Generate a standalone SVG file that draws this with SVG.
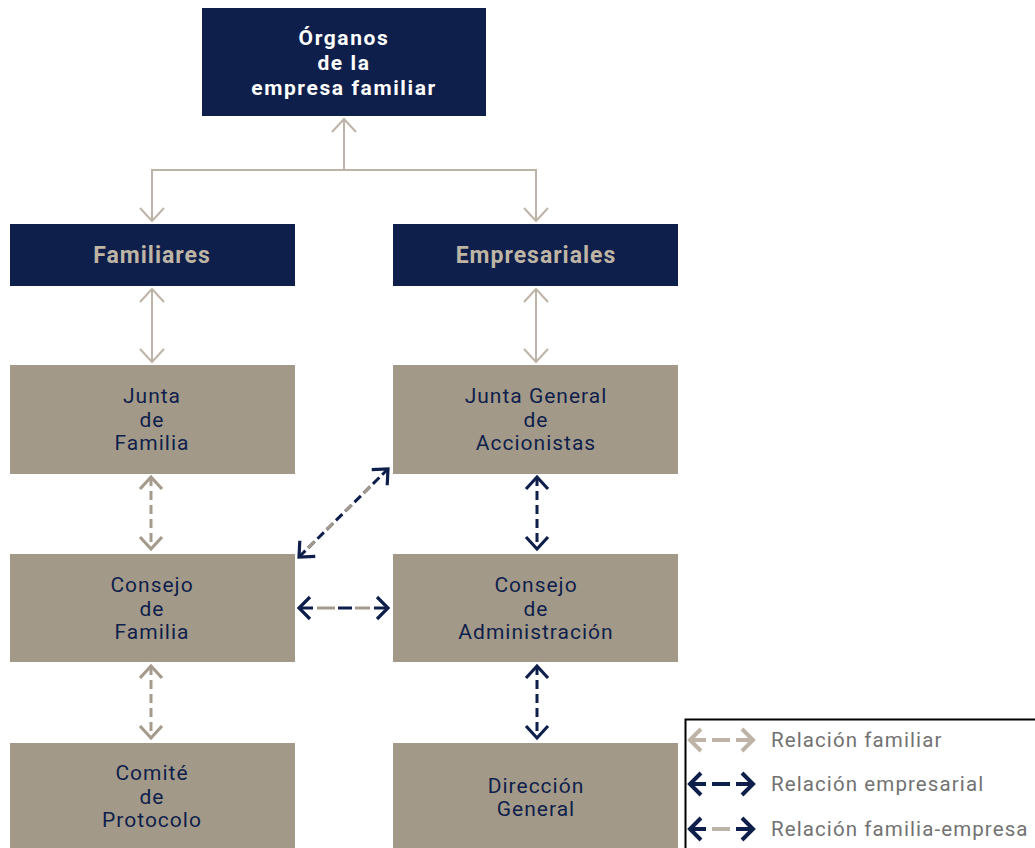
<svg xmlns="http://www.w3.org/2000/svg" width="1035" height="848" viewBox="0 0 1035 848">
<style>
.navy{fill:#0f1f4b}
.tan{fill:#a39989}
.ttl{font-family:Roboto,"Liberation Sans",sans-serif;font-weight:bold;text-anchor:middle}
.t1{fill:#ffffff;font-size:21px;letter-spacing:1.6px}
.t2{fill:#bfb5a5;font-size:23px;letter-spacing:1px}
.nt{font-family:Roboto,"Liberation Sans",sans-serif;font-size:21px;fill:#0f1f4b;text-anchor:middle;letter-spacing:1px}
.lg{font-family:Roboto,"Liberation Sans",sans-serif;font-size:20.5px;fill:#727272;letter-spacing:1.1px}
.thin{stroke:#bdb4a7;stroke-width:2;fill:none}
.dt{stroke:#a59b8c;stroke-width:3;fill:none;stroke-dasharray:9 5}
.dn{stroke:#0f1f4b;stroke-width:3;fill:none;stroke-dasharray:9 5}
.hn{stroke:#0f1f4b;stroke-width:3.2;fill:none}
.ln{stroke:#0f1f4b;stroke-width:3;fill:none}
.lt{stroke:#a59b8c;stroke-width:3;fill:none}
</style>
<defs>
<marker id="mThin" viewBox="-16 -16 20 32" markerWidth="20" markerHeight="32" refX="0" refY="0" orient="auto-start-reverse" markerUnits="userSpaceOnUse">
<path d="M-13,-12 L0,0 L-13,12" fill="none" stroke="#bdb4a7" stroke-width="2"/>
</marker>
<marker id="mTan" viewBox="-16 -16 20 32" markerWidth="20" markerHeight="32" refX="0" refY="0" orient="auto-start-reverse" markerUnits="userSpaceOnUse">
<path d="M-12,-11 L0,0 L-12,11" fill="none" stroke="#a59b8c" stroke-width="3.2"/>
</marker>
<marker id="mNavy" viewBox="-16 -16 20 32" markerWidth="20" markerHeight="32" refX="0" refY="0" orient="auto-start-reverse" markerUnits="userSpaceOnUse">
<path d="M-12,-11 L0,0 L-12,11" fill="none" stroke="#0f1f4b" stroke-width="3.2"/>
</marker>
</defs>

<g id="n-organos">
<rect class="navy" x="202" y="8" width="284" height="108"/>
<text class="ttl t1" x="344" y="45">Órganos</text>
<text class="ttl t1" x="344" y="70">de la</text>
<text class="ttl t1" x="344" y="95">empresa familiar</text>
</g>
<g id="n-familiares">
<rect class="navy" x="10" y="224" width="285" height="62"/>
<text class="ttl t2" x="152" y="263">Familiares</text>
</g>
<g id="n-empresariales">
<rect class="navy" x="393" y="224" width="285" height="62"/>
<text class="ttl t2" x="536" y="263">Empresariales</text>
</g>
<g id="n-junta-familia">
<rect class="tan" x="10" y="365" width="285" height="109"/>
<text class="nt" x="152" y="403">Junta</text>
<text class="nt" x="152" y="427">de</text>
<text class="nt" x="152" y="450">Familia</text>
</g>
<g id="n-junta-general">
<rect class="tan" x="393" y="365" width="285" height="109"/>
<text class="nt" x="536" y="403">Junta General</text>
<text class="nt" x="536" y="427">de</text>
<text class="nt" x="536" y="450">Accionistas</text>
</g>
<g id="n-consejo-familia">
<rect class="tan" x="10" y="554" width="285" height="108"/>
<text class="nt" x="152" y="592">Consejo</text>
<text class="nt" x="152" y="616">de</text>
<text class="nt" x="152" y="639">Familia</text>
</g>
<g id="n-consejo-admin">
<rect class="tan" x="393" y="554" width="285" height="108"/>
<text class="nt" x="536" y="592">Consejo</text>
<text class="nt" x="536" y="616">de</text>
<text class="nt" x="536" y="639">Administración</text>
</g>
<g id="n-comite">
<rect class="tan" x="10" y="743" width="285" height="105"/>
<text class="nt" x="152" y="780">Comité</text>
<text class="nt" x="152" y="804">de</text>
<text class="nt" x="152" y="827">Protocolo</text>
</g>
<g id="n-direccion">
<rect class="tan" x="393" y="743" width="285" height="105"/>
<text class="nt" x="536" y="793">Dirección</text>
<text class="nt" x="536" y="816">General</text>
</g>

<g id="connectors">
<line class="thin" x1="344" y1="170" x2="344" y2="119" marker-end="url(#mThin)"/>
<line class="thin" x1="151" y1="170" x2="537" y2="170"/>
<line class="thin" x1="152" y1="169" x2="152" y2="221" marker-end="url(#mThin)"/>
<line class="thin" x1="536" y1="169" x2="536" y2="221" marker-end="url(#mThin)"/>
<line class="thin" x1="152" y1="289" x2="152" y2="362" marker-start="url(#mThin)" marker-end="url(#mThin)"/>
<line class="thin" x1="536" y1="289" x2="536" y2="362" marker-start="url(#mThin)" marker-end="url(#mThin)"/>
<line class="dt" x1="151" y1="477" x2="151" y2="549" marker-start="url(#mTan)" marker-end="url(#mTan)"/>
<line class="dt" x1="151" y1="666" x2="151" y2="738" marker-start="url(#mTan)" marker-end="url(#mTan)"/>
<line class="dn" x1="537" y1="477" x2="537" y2="549" marker-start="url(#mNavy)" marker-end="url(#mNavy)"/>
<line class="dn" x1="537" y1="666" x2="537" y2="738" marker-start="url(#mNavy)" marker-end="url(#mNavy)"/>
<!-- horizontal familia-empresa -->
<path class="hn" d="M310,597 L299,608 L310,619 M377,597 L388,608 L377,619"/>
<path class="ln" d="M299,608 H313 M338,608 H352 M374,608 H388"/>
<path class="lt" d="M317,608 H335 M355,608 H370"/>
<!-- diagonal -->
<line x1="299" y1="557" x2="388" y2="469" stroke="#0f1f4b" stroke-width="3" stroke-dasharray="9 4" marker-start="url(#mNavy)" marker-end="url(#mNavy)"/>
<line x1="299" y1="557" x2="388" y2="469" stroke="#a59b8c" stroke-width="3" stroke-dasharray="0 13 9 17 9 17 9 17 9 200"/>
</g>

<g id="legend">
<rect x="685.5" y="719.5" width="352" height="132" fill="#ffffff" stroke="#000000" stroke-width="2"/>
<g stroke-width="4" fill="none">
<path d="M701,729 L690,740 L701,751 M742,729 L753,740 L742,751" stroke="#bdb4a7"/>
<path d="M691,740 H706 M712,740 H730 M736,740 H752" stroke="#bdb4a7"/>
<path d="M701,773 L690,784 L701,795 M742,773 L753,784 L742,795" stroke="#0f1f4b"/>
<path d="M691,784 H706 M712,784 H730 M736,784 H752" stroke="#0f1f4b"/>
<path d="M701,818 L690,829 L701,840 M742,818 L753,829 L742,840 M691,829 H706 M736,829 H752" stroke="#0f1f4b"/>
<path d="M712,829 H730" stroke="#bdb4a7"/>
</g>
<text class="lg" x="771" y="747">Relación familiar</text>
<text class="lg" x="771" y="791">Relación empresarial</text>
<text class="lg" x="771" y="836">Relación familia-empresa</text>
</g>
</svg>
